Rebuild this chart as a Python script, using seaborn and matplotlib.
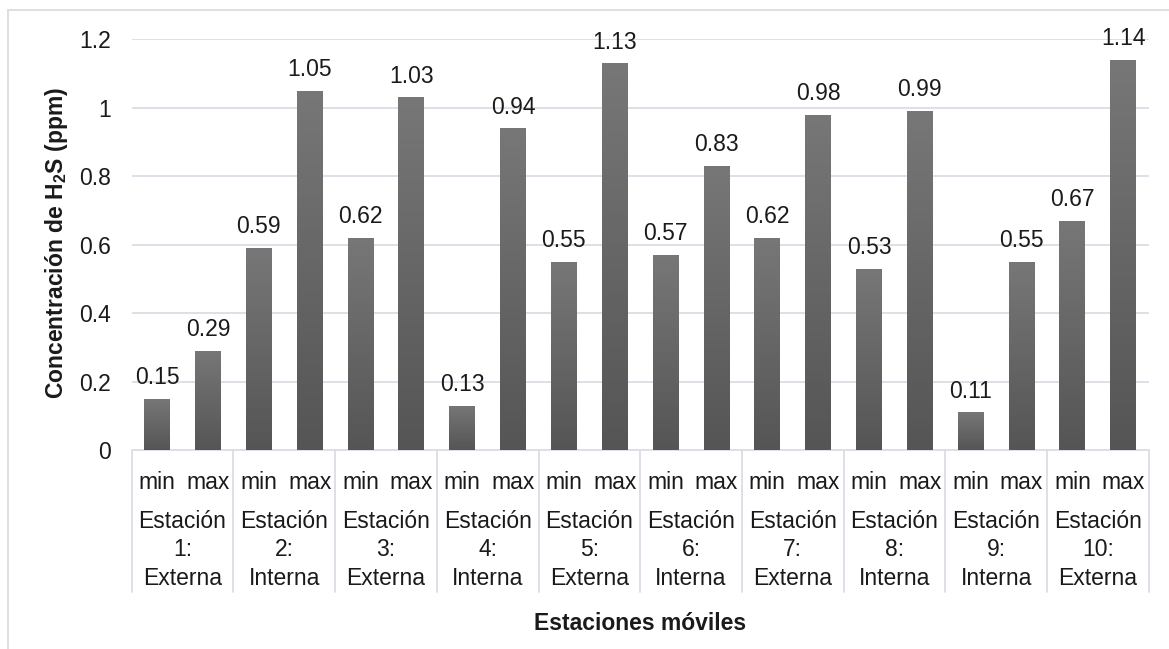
import numpy as np
import pandas as pd
import matplotlib
matplotlib.use("Agg")
import matplotlib.pyplot as plt
import matplotlib.transforms as mtransforms
from matplotlib.patches import Rectangle
import seaborn as sns

# Data: H2S concentrations (ppm) per mobile station
stations = ["Estación\n1:\nExterna", "Estación\n2:\nInterna", "Estación\n3:\nExterna",
            "Estación\n4:\nInterna", "Estación\n5:\nExterna", "Estación\n6:\nInterna",
            "Estación\n7:\nExterna", "Estación\n8:\nInterna", "Estación\n9:\nInterna",
            "Estación\n10:\nExterna"]
stat_labels = ["min", "max"]
min_vals = [0.15, 0.59, 0.62, 0.13, 0.55, 0.57, 0.62, 0.53, 0.11, 0.67]
max_vals = [0.29, 1.05, 1.03, 0.94, 1.13, 0.83, 0.98, 0.99, 0.55, 1.14]
y_ticks = [0, 0.2, 0.4, 0.6, 0.8, 1.0, 1.2]
y_tick_labels = ["0", "0.2", "0.4", "0.6", "0.8", "1", "1.2"]

rows = []
for s, lo, hi in zip(stations, min_vals, max_vals):
    rows.append({"pos": len(rows), "station": s, "stat": stat_labels[0], "value": lo})
    rows.append({"pos": len(rows), "station": s, "stat": stat_labels[1], "value": hi})
df = pd.DataFrame(rows)

sns.set_theme(style="white")
plt.rcParams["font.family"] = ["Liberation Sans", "DejaVu Sans"]
plt.rcParams["mathtext.fontset"] = "custom"
plt.rcParams["mathtext.rm"] = "Liberation Sans"
plt.rcParams["mathtext.bf"] = "Liberation Sans:bold"

W, H = 1169, 649
fig = plt.figure(figsize=(W / 100, H / 100), dpi=100)
fig.patch.set_facecolor("white")

left_px, right_px, top_px, zero_px = 131.7, 1148.7, 39.3, 450.0
ax = fig.add_axes([left_px / W, 1 - zero_px / H, (right_px - left_px) / W, (zero_px - top_px) / H])

grid_col = "#dadee5"
txt_col = "#1a1a1a"
fs = 16.5

sns.barplot(data=df, x="pos", y="value", color="#666666", width=0.51,
            saturation=1, ax=ax, native_scale=True, zorder=2)

ax.set_xlim(-0.5, len(df) - 0.5)
ax.set_ylim(0, 1.2)
ax.set_yticks(y_ticks)
ax.set_yticklabels(y_tick_labels, fontsize=fs, color=txt_col)
ax.set_xticks(df["pos"])
ax.set_xticklabels(df["stat"], fontsize=fs, color=txt_col)
ax.tick_params(axis="y", length=0, pad=15)
ax.tick_params(axis="x", length=0, pad=15)
ax.set_xlabel("")
ax.set_ylabel("")
for sp in ax.spines.values():
    sp.set_visible(False)
ax.yaxis.grid(True, color=grid_col, linewidth=1.3, zorder=0)
ax.set_axisbelow(True)

# Vertical gradient fill on each bar, lighter at the top
grad = np.linspace(0, 1, 256).reshape(-1, 1)
cmap = matplotlib.colors.LinearSegmentedColormap.from_list("g", ["#555555", "#777777"])
bars = ax.containers[0]
for p in bars.patches:
    x0, y0 = p.get_x(), p.get_y()
    w, h = p.get_width(), p.get_height()
    im = ax.imshow(grad, cmap=cmap, origin="lower", aspect="auto",
                   extent=[x0, x0 + w, y0, y0 + h], zorder=3)
    im.set_clip_path(p)
    p.set_edgecolor("none")
ax.set_xlim(-0.5, len(df) - 0.5)
ax.set_ylim(0, 1.2)

ax.bar_label(bars, labels=[f"{v:.2f}" for v in df["value"]], padding=7,
             fontsize=fs, color=txt_col)

# Category group labels and separators below the axis
trans = mtransforms.blended_transform_factory(ax.transData, ax.transAxes)
ax_h = zero_px - top_px
sep_bottom = -(591.7 - zero_px) / ax_h
for i, s in enumerate(stations):
    ax.text(2 * i + 0.5, -(550 - zero_px) / ax_h, s, transform=trans, ha="center",
            va="center", fontsize=fs, color=txt_col, linespacing=1.32,
            multialignment="center")
for b in range(len(stations) + 1):
    ax.plot([2 * b - 0.5, 2 * b - 0.5], [0, sep_bottom], transform=trans,
            color=grid_col, linewidth=1.3, clip_on=False)
ax.plot([-0.5, len(df) - 0.5], [0, 0], transform=trans, color=grid_col,
        linewidth=1.3, clip_on=False, zorder=1)

fig.text(640 / W, 1 - 624 / H, "Estaciones móviles", ha="center", va="center",
         fontsize=fs, fontweight="bold", color=txt_col)
fig.text(57 / W, 1 - 243 / H, r"Concentración de H$_\mathbf{2}$S (ppm)", ha="center",
         va="center", rotation=90, fontsize=fs, fontweight="bold", color=txt_col)

# Outer chart frame
fig.patches.append(Rectangle((8 / W, -0.1), 1.2, 1 - 10 / H + 0.1,
                             transform=fig.transFigure, fill=False,
                             edgecolor="#d9dde3", linewidth=1.3))

fig.savefig("out.png", dpi=100, facecolor="white")
